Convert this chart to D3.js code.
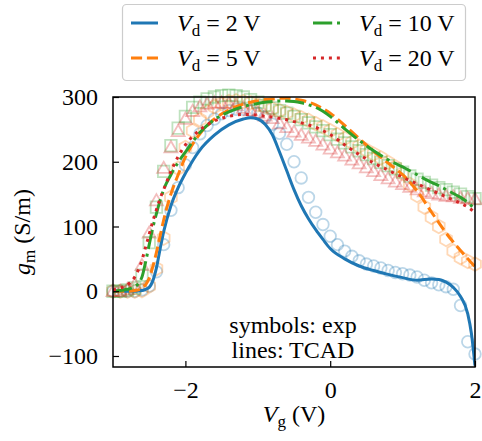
<!DOCTYPE html>
<html>
<head>
<meta charset="utf-8">
<script src="https://cdn.jsdelivr.net/npm/d3@7"></script>
<style>
  body { margin: 0; background: #fff; }
  text { font-family: "Liberation Serif", "Times New Roman", serif; fill: #000; }
</style>
</head>
<body>
<div id="chart"></div>
<script>
// gm vs Vg, exp (symbols) and TCAD (lines)

const width = 482;
const height = 441;
const margin = {left: 113, right: 7, top: 97, bottom: 74};

// drain voltages (legend)
const vdLabels = ["2", "5", "10", "20"];
const colors = ["#1f77b4", "#ff7f0e", "#2ca02c", "#d62728"];

// experimental gate voltage sweep
const expVg = [-3.0, -2.9, -2.8, -2.7, -2.6, -2.5, -2.4, -2.3, -2.2, -2.1,
  -2.0, -1.9, -1.8, -1.7, -1.6, -1.5, -1.4, -1.3, -1.2, -1.1,
  -1.0, -0.9, -0.8, -0.7, -0.6, -0.5, -0.4, -0.3, -0.2, -0.1,
  0.0, 0.1, 0.2, 0.3, 0.4, 0.5, 0.6, 0.7, 0.8, 0.9,
  1.0, 1.1, 1.2, 1.3, 1.4, 1.5, 1.6, 1.7, 1.8, 1.9, 2.0];

const expVd2 = [0, 0, 0, 0, 2, 8, 30, 72, 125, 160,
  195, 222, 243, 256, 266, 274, 279, 281, 281, 279,
  275, 268, 258, 244, 227, 200, 175, 145, 122, 103,
  85, 72, 62, 54, 47, 42, 39, 36, 32, 29,
  27, 25, 22, 17, 13, 10, 7, 3, -22, -78, -97];
const expVd5 = [0, 0, 0, 0, 1, 8, 35, 82, 145, 190,
  222, 248, 265, 277, 285, 290, 293, 294, 293, 291,
  288, 285, 282, 279, 276, 272, 268, 264, 259, 254,
  248, 242, 236, 230, 224, 218, 212, 206, 199, 192,
  182, 165, 148, 130, 114, 100, 80, 62, 52, 46, 42];
const expVd10 = [0, 0, 2, 5, 25, 75, 130, 185, 225, 252,
  270, 284, 292, 297, 300, 302, 303, 302, 300, 296,
  292, 287, 283, 279, 275, 270, 265, 260, 254, 248,
  242, 235, 229, 223, 217, 211, 205, 199, 194, 189,
  184, 178, 173, 168, 164, 160, 157, 153, 150, 146, 143];
const expVd20 = [0, 0, 3, 10, 40, 90, 140, 190, 222, 247,
  266, 278, 285, 289, 291, 291, 290, 287, 283, 279,
  275, 271, 267, 259, 253, 246, 241, 237, 232, 226,
  220, 214, 209, 203, 197, 191, 185, 179, 174, 169,
  165, 161, 157, 154, 151, 149, 147, 146, 144, 143, 142];

// TCAD gate voltage sweep
const tcadVg = [-3.0, -2.9, -2.8, -2.7, -2.6, -2.55, -2.5, -2.45, -2.4, -2.35,
  -2.3, -2.2, -2.1, -2.0, -1.8, -1.6, -1.4, -1.2, -1.1, -1.0,
  -0.9, -0.8, -0.7, -0.6, -0.5, -0.4, -0.3, -0.2, -0.1, 0.0,
  0.2, 0.4, 0.6, 0.8, 1.0, 1.2, 1.4, 1.5, 1.6, 1.7,
  1.8, 1.9, 1.95, 2.0];

const tcadVd2 = [0, 0, 0, 0, 1, 3, 6, 16, 36, 65,
  92, 132, 160, 182, 218, 241, 257, 266, 268, 266,
  258, 242, 215, 186, 157, 132, 112, 95, 80, 66,
  50, 39, 32, 26, 21, 17, 19, 18, 14, 6,
  -8, -35, -65, -115];
const tcadVd5 = [0, 0, 0, 1, 5, 10, 20, 38, 60, 85,
  110, 150, 180, 207, 243, 266, 280, 289, 292, 294,
  296, 297, 298, 298, 297, 295, 292, 288, 282, 275,
  256, 236, 216, 198, 180, 155, 122, 106, 90, 76,
  63, 50, 44, 38];
const tcadVd10 = [0, 1, 3, 7, 22, 45, 72, 98, 120, 140,
  157, 180, 199, 215, 245, 265, 277, 285, 288, 290,
  292, 293, 294, 294, 293, 291, 288, 284, 278, 270,
  251, 233, 217, 203, 192, 180, 168, 163, 157, 151,
  145, 137, 132, 125];
const tcadVd20 = [2, 5, 10, 22, 48, 68, 88, 108, 126, 143,
  157, 185, 208, 226, 249, 263, 270, 273, 273, 272,
  270, 269, 267, 265, 262, 260, 257, 253, 248, 242,
  226, 211, 198, 187, 176, 166, 156, 151, 146, 141,
  136, 130, 126, 122];

const xTicks = [-2, 0, 2];
const yTicks = [-100, 0, 100, 200, 300];

const expSeries = [expVd2, expVd5, expVd10, expVd20];
const tcadSeries = [tcadVd2, tcadVd5, tcadVd10, tcadVd20];
const markerTypes = ["circle", "hexagon", "square", "triangle"];
const dashes = [null, "11.1,4.8", "19.2,4.8,3,4.8", "3,4.95"];

const svg = d3.select("#chart")
  .append("svg")
  .attr("width", width)
  .attr("height", height);

const x = d3.scaleLinear()
  .domain([-3, 2])
  .range([margin.left, width - margin.right]);
const y = d3.scaleLinear()
  .domain([-117, 300])
  .range([height - margin.bottom, margin.top]);

svg.append("clipPath").attr("id", "clip")
  .append("rect")
  .attr("x", margin.left).attr("y", margin.top)
  .attr("width", width - margin.left - margin.right)
  .attr("height", height - margin.top - margin.bottom);

// marker shapes
function markerPath(type) {
  if (type === "circle") return d3.symbol(d3.symbolCircle, Math.PI * 5.8 * 5.8)();
  if (type === "square") return d3.symbol(d3.symbolSquare, 11.5 * 11.5)();
  if (type === "triangle") {
    const r = 7.5;
    const pts = [0, 1, 2].map(k => {
      const a = -Math.PI / 2 + k * 2 * Math.PI / 3;
      return [r * Math.cos(a), r * Math.sin(a) + 1];
    });
    return "M" + pts.join("L") + "Z";
  }
  // hexagon, pointy top
  const r = 6.8;
  const pts = d3.range(6).map(k => {
    const a = -Math.PI / 2 + k * Math.PI / 3;
    return [r * Math.cos(a), r * Math.sin(a)];
  });
  return "M" + pts.join("L") + "Z";
}

// experimental symbols
expSeries.forEach((vals, i) => {
  svg.append("g")
    .selectAll("path")
    .data(expVg.map((v, j) => [v, vals[j]]))
    .join("path")
    .attr("d", markerPath(markerTypes[i]))
    .attr("transform", d => `translate(${x(d[0])},${y(d[1])})`)
    .attr("fill", "none")
    .attr("stroke", colors[i])
    .attr("stroke-width", 1.8)
    .attr("stroke-opacity", 0.3);
});

// TCAD lines
const line = d3.line()
  .x(d => x(d[0]))
  .y(d => y(d[1]))
  .curve(d3.curveMonotoneX);

tcadSeries.forEach((vals, i) => {
  svg.append("path")
    .datum(tcadVg.map((v, j) => [v, vals[j]]))
    .attr("d", line)
    .attr("clip-path", "url(#clip)")
    .attr("fill", "none")
    .attr("stroke", colors[i])
    .attr("stroke-width", 3)
    .attr("stroke-dasharray", dashes[i]);
});

// axes frame
svg.append("rect")
  .attr("x", margin.left).attr("y", margin.top)
  .attr("width", width - margin.left - margin.right)
  .attr("height", height - margin.top - margin.bottom)
  .attr("fill", "none")
  .attr("stroke", "#000")
  .attr("stroke-width", 1.5);

const fmt = d => d < 0 ? "\u2212" + Math.abs(d) : String(d);

const xAxis = svg.append("g")
  .attr("transform", `translate(0,${height - margin.bottom})`)
  .call(d3.axisBottom(x).tickValues(xTicks).tickSizeInner(-6).tickSizeOuter(0)
    .tickPadding(14).tickFormat(fmt));
const yAxis = svg.append("g")
  .attr("transform", `translate(${margin.left},0)`)
  .call(d3.axisLeft(y).tickValues(yTicks).tickSizeInner(-6).tickSizeOuter(0)
    .tickPadding(15).tickFormat(fmt));

[xAxis, yAxis].forEach(a => {
  a.attr("font-family", null).attr("font-size", null);
  a.select(".domain").remove();
  a.selectAll(".tick line").attr("stroke", "#000").attr("stroke-width", 1.2);
  a.selectAll(".tick text")
    .style("font-family", "'Liberation Serif', serif")
    .style("font-size", "24px")
    .attr("fill", "#000");
});

// axis labels
const xl = svg.append("text")
  .attr("x", (margin.left + width - margin.right) / 2)
  .attr("y", 422)
  .attr("text-anchor", "middle")
  .style("font-size", "24px");
xl.append("tspan").attr("font-style", "italic").text("V");
xl.append("tspan").attr("dy", 5).style("font-size", "17px").text("g");
xl.append("tspan").attr("dy", -5).text(" (V)");

const yl = svg.append("text")
  .attr("transform", `translate(30,${(margin.top + height - margin.bottom) / 2}) rotate(-90)`)
  .attr("text-anchor", "middle")
  .style("font-size", "24px");
yl.append("tspan").attr("font-style", "italic").text("g");
yl.append("tspan").attr("dy", 5).style("font-size", "17px").text("m");
yl.append("tspan").attr("dy", -5).text(" (S/m)");

// annotation
svg.append("text").attr("x", 293).attr("y", 333)
  .attr("text-anchor", "middle").style("font-size", "24px").text("symbols: exp");
svg.append("text").attr("x", 293).attr("y", 358)
  .attr("text-anchor", "middle").style("font-size", "24px").text("lines: TCAD");

// legend
const legend = svg.append("g");
legend.append("rect")
  .attr("x", 122.5).attr("y", 4.5)
  .attr("width", 343).attr("height", 76)
  .attr("rx", 4)
  .attr("fill", "#fff")
  .attr("fill-opacity", 0.8)
  .attr("stroke", "#ccc")
  .attr("stroke-width", 1.2);

const legendPos = [[131, 23], [131, 58], [313, 23], [313, 58]];
vdLabels.forEach((lab, i) => {
  const [lx, ly] = legendPos[i];
  const g = legend.append("g").attr("transform", `translate(${lx},${ly})`);
  g.append("line")
    .attr("x1", 0).attr("x2", 27).attr("y1", 0).attr("y2", 0)
    .attr("stroke", colors[i])
    .attr("stroke-width", 3)
    .attr("stroke-dasharray", dashes[i]);
  const t = g.append("text").attr("x", 46).attr("y", 8).style("font-size", "24px");
  t.append("tspan").attr("font-style", "italic").text("V");
  t.append("tspan").attr("dy", 5).style("font-size", "17px").text("d");
  t.append("tspan").attr("dy", -5).text(" = " + lab + " V");
});
</script>
</body>
</html>
